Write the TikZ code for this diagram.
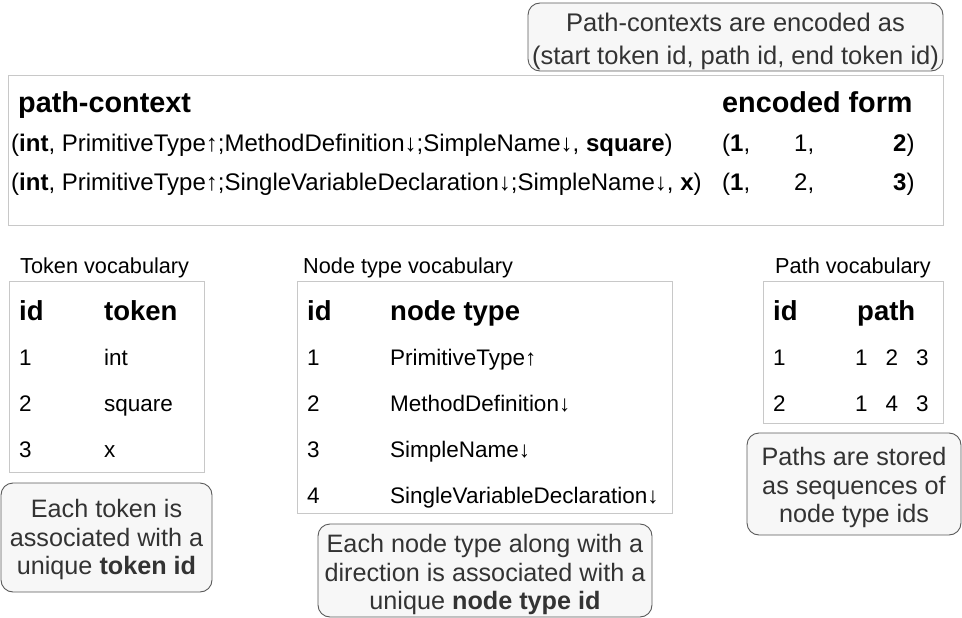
\documentclass[tikz,border=0pt]{standalone}
\usepackage{fontspec}
\setmainfont{Liberation Sans}
\definecolor{tabline}{HTML}{C8C8C8}
\definecolor{callfill}{HTML}{F7F7F7}
\definecolor{calldraw}{HTML}{5A5A5A}
\definecolor{calltext}{HTML}{333333}
\begin{document}
\begin{tikzpicture}[x=1pt,y=-1pt,
  tablebox/.style={draw=tabline, line width=1pt, inner sep=0pt, anchor=north west},
  lbl/.style={anchor=base west, inner sep=0pt, font=\fontsize{21.7}{26}\selectfont},
  body/.style={anchor=base west, inner sep=0pt, font=\fontsize{22.5}{27}\selectfont},
  rowtext/.style={anchor=base west, inner sep=0pt, font=\fontsize{24}{28}\selectfont},
  head/.style={anchor=base west, inner sep=0pt, font=\fontsize{27.5}{32}\bfseries\selectfont},
  bighead/.style={anchor=base west, inner sep=0pt, font=\fontsize{28.8}{34}\bfseries\selectfont},
  calloutbox/.style={draw=calldraw, fill=callfill, rounded corners=12pt, line width=0.9pt, inner sep=0pt},
  callouttext/.style={text=calltext, align=center, inner sep=0pt, font=\fontsize{25.2}{28.8}\selectfont},
]
\useasboundingbox (0,0) rectangle (962,618);

% tables
\node[tablebox, minimum width=935pt, minimum height=150pt] (mainTab) at (8,75) {};
\node[tablebox, minimum width=195pt, minimum height=191pt] (tokTab) at (9,281) {};
\node[tablebox, minimum width=375pt, minimum height=232pt] (nodeTab) at (297,281) {};
\node[tablebox, minimum width=180pt, minimum height=142pt] (pathTab) at (763,281) {};

% main table
\node[bighead] (hPC) at (18,113) {path-context};
\node[bighead] (hEF) at (722,113) {encoded form};
\node[rowtext] (r1) at (11,151) {(\textbf{int}, PrimitiveType↑;MethodDefinition↓;SimpleName↓, \textbf{square})};
\node[rowtext] (r1a) at (722,151) {(\textbf{1},};
\node[rowtext] (r1b) at (794,151) {1,};
\node[rowtext] (r1c) at (893,151) {\textbf{2})};
\node[rowtext] (r2) at (11,190) {(\textbf{int}, PrimitiveType↑;SingleVariableDeclaration↓;SimpleName↓, \textbf{x})};
\node[rowtext] (r2a) at (722,190) {(\textbf{1},};
\node[rowtext] (r2b) at (794,190) {2,};
\node[rowtext] (r2c) at (893,190) {\textbf{3})};

% labels
\node[lbl] (lTok) at (20,273) {Token vocabulary};
\node[lbl] (lNode) at (303,273) {Node type vocabulary};
\node[lbl] (lPath) at (775,273) {Path vocabulary};

% token table
\node[head] (tH1) at (19,320) {id};
\node[head] (tH2) at (104,320) {token};
\node[body] (t1i) at (19,365) {1};
\node[body] (t1t) at (104,365) {int};
\node[body] (t2i) at (19,411) {2};
\node[body] (t2t) at (104,411) {square};
\node[body] (t3i) at (19,457) {3};
\node[body] (t3t) at (104,457) {x};

% node type table
\node[head] (nH1) at (307,320) {id};
\node[head] (nH2) at (390,320) {node type};
\node[body] (n1i) at (307,365) {1};
\node[body] (n1t) at (390,365) {PrimitiveType↑};
\node[body] (n2i) at (307,411) {2};
\node[body] (n2t) at (390,411) {MethodDefinition↓};
\node[body] (n3i) at (307,457) {3};
\node[body] (n3t) at (390,457) {SimpleName↓};
\node[body] (n4i) at (307,503) {4};
\node[body] (n4t) at (390,503) {SingleVariableDeclaration↓};

% path table
\node[head] (pH1) at (773,320) {id};
\node[head] (pH2) at (857,320) {path};
\node[body] (p1i) at (773,365) {1};
\node[body] (p1p) at (855,365) {1\hspace{18pt}2\hspace{18pt}3};
\node[body] (p2i) at (773,411) {2};
\node[body] (p2p) at (855,411) {1\hspace{18pt}4\hspace{18pt}3};

% callouts
\node[calloutbox, minimum width=415pt, minimum height=68pt] (encNote) at (735.5,37) {};
\node[callouttext, font=\fontsize{25.5}{33}\selectfont] (encText) at (735.5,41) {Path-contexts are encoded as\\(start token id, path id, end token id)};
\node[calloutbox, minimum width=211pt, minimum height=109pt] (tokNote) at (106.5,537.5) {};
\node[callouttext] (tokText) at (106.5,539.5) {Each token is\\associated with a\\unique \textbf{token id}};
\node[calloutbox, minimum width=334pt, minimum height=93pt] (nodeNote) at (485,570.5) {};
\node[callouttext] (nodeText) at (485,574.5) {Each node type along with a\\direction is associated with a\\unique \textbf{node type id}};
\node[calloutbox, minimum width=214pt, minimum height=102pt] (pathNote) at (854,484) {};
\node[callouttext] (pathText) at (854,487.5) {Paths are stored\\as sequences of\\node type ids};
\end{tikzpicture}
\end{document}
